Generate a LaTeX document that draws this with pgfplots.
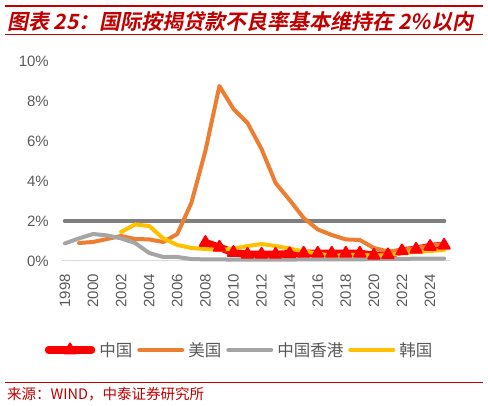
\documentclass[border=0pt]{standalone}
\usepackage{pgfplots}
\pgfplotsset{compat=1.18}
\usepackage{fontspec}
\setmainfont{Liberation Sans}
\newfontfamily\cjk{Noto Sans CJK SC}
\newfontfamily\cjktitle[FakeSlant=0.2]{Noto Sans CJK SC Bold}

\definecolor{cnred}{HTML}{FF0000}
\definecolor{usorange}{HTML}{ED7D31}
\definecolor{hkgray}{HTML}{A5A5A5}
\definecolor{kryellow}{HTML}{FFC000}
\definecolor{refgray}{HTML}{7F7F7F}
\definecolor{basegray}{HTML}{D9D9D9}
\definecolor{tickgray}{HTML}{595959}
\definecolor{titlered}{HTML}{C00000}

\begin{document}
\begin{tikzpicture}
\path[use as bounding box] (0pt,0pt) rectangle (488pt,-406pt);

% header and footer rules
\fill[titlered] (5pt,-5pt) rectangle (483pt,-7.5pt);
\draw[titlered, line width=0.8pt] (5pt,-34pt) -- (483pt,-34pt);
\node[anchor=west, text=titlered, inner sep=0pt] at (7pt,-22pt)
  {\cjktitle\fontsize{21}{21}\selectfont 图表 25：国际按揭贷款不良率基本维持在 2\%以内};
\draw[titlered, line width=0.8pt] (5pt,-382pt) -- (483pt,-382pt);
\node[anchor=west, text=titlered, inner sep=0pt] at (7pt,-394pt)
  {\cjk\fontsize{14.5}{14.5}\selectfont 来源：WIND，中泰证券研究所};

\begin{axis}[
  at={(62pt,-261pt)}, anchor=south west,
  scale only axis, width=388pt, height=200pt,
  xmin=1997.79, xmax=2025.42, ymin=0, ymax=10,
  clip=false,
  axis line style={draw=none},
  major tick length=0pt,
  /pgf/number format/assume math mode=true,
  xtick={1998,2000,2002,2004,2006,2008,2010,2012,2014,2016,2018,2020,2022,2024},
  xticklabels={1998,2000,2002,2004,2006,2008,2010,2012,2014,2016,2018,2020,2022,2024},
  ytick={0,2,4,6,8,10},
  yticklabels={0\%,2\%,4\%,6\%,8\%,10\%},
  ticklabel style={font=\fontsize{15}{15}\selectfont, text=tickgray},
  xticklabel style={rotate=90, anchor=east, inner sep=0pt, xshift=-13pt},
  yticklabel style={anchor=east, inner sep=0pt, xshift=-13pt},
  legend columns=4,
  legend style={at={(0.455,-0.445)}, anchor=center, draw=none, fill=none,
    font=\cjk\fontsize{16.5}{16.5}\selectfont, text=tickgray,
    nodes={inner sep=0pt},
    /tikz/every odd column/.append style={column sep=4pt},
    /tikz/every even column/.append style={column sep=5pt}},
  legend image code/.code={
    \draw[mark repeat=2,mark phase=2,#1] plot coordinates {(0pt,0pt) (21.5pt,0pt) (43pt,0pt)};},
  every axis plot/.append style={line join=round, line cap=round},
]

% baseline at 0%
\addplot[basegray, line width=1pt, forget plot] coordinates {(1997.79,0) (2025.42,0)};
% 2% reference line
\addplot[refgray, line width=4.5pt, forget plot] coordinates {(1998,2) (2025,2)};

\addplot[cnred, line width=7.5pt, mark=triangle*, mark size=6.5pt,
  mark options={solid, line width=2pt, line join=round}] coordinates {
  (2008,0.92) (2009,0.68) (2010,0.42) (2011,0.33) (2012,0.33) (2013,0.33)
  (2014,0.36) (2015,0.38) (2016,0.38) (2017,0.38) (2018,0.38) (2019,0.38)
  (2020,0.28) (2021,0.30) (2022,0.50) (2023,0.58) (2024,0.72) (2025,0.78)};
\addlegendentry{中国}

\addplot[usorange, line width=4pt] coordinates {
  (1999,0.90) (2000,0.95) (2001,1.10) (2002,1.25) (2003,1.10) (2004,1.08)
  (2005,0.95) (2006,1.35) (2007,2.90) (2008,5.50) (2009,8.75) (2010,7.60)
  (2011,6.90) (2012,5.60) (2013,3.90) (2014,3.05) (2015,2.15) (2016,1.58)
  (2017,1.30) (2018,1.08) (2019,1.05) (2020,0.65) (2021,0.48) (2022,0.55)
  (2023,0.65) (2024,0.75) (2025,0.86)};
\addlegendentry{美国}

\addplot[hkgray, line width=4pt] coordinates {
  (1998,0.88) (1999,1.13) (2000,1.35) (2001,1.28) (2002,1.13) (2003,0.90)
  (2004,0.40) (2005,0.20) (2006,0.20) (2007,0.10) (2008,0.08) (2009,0.08)
  (2010,0.07) (2011,0.07) (2012,0.07) (2013,0.07) (2014,0.07) (2015,0.08)
  (2016,0.08) (2017,0.08) (2018,0.08) (2019,0.08) (2020,0.10) (2021,0.10)
  (2022,0.10) (2023,0.12) (2024,0.12) (2025,0.12)};
\addlegendentry{中国香港}

\addplot[kryellow, line width=4pt] coordinates {
  (2002,1.45) (2003,1.83) (2004,1.75) (2005,1.13) (2006,0.80) (2007,0.65)
  (2008,0.60) (2009,0.55) (2010,0.62) (2011,0.75) (2012,0.85) (2013,0.75)
  (2014,0.62) (2015,0.48) (2016,0.38) (2017,0.25) (2018,0.30) (2019,0.30)
  (2020,0.28) (2021,0.28) (2022,0.40) (2023,0.45) (2024,0.50) (2025,0.55)};
\addlegendentry{韩国}
\end{axis}
\end{tikzpicture}
\end{document}
